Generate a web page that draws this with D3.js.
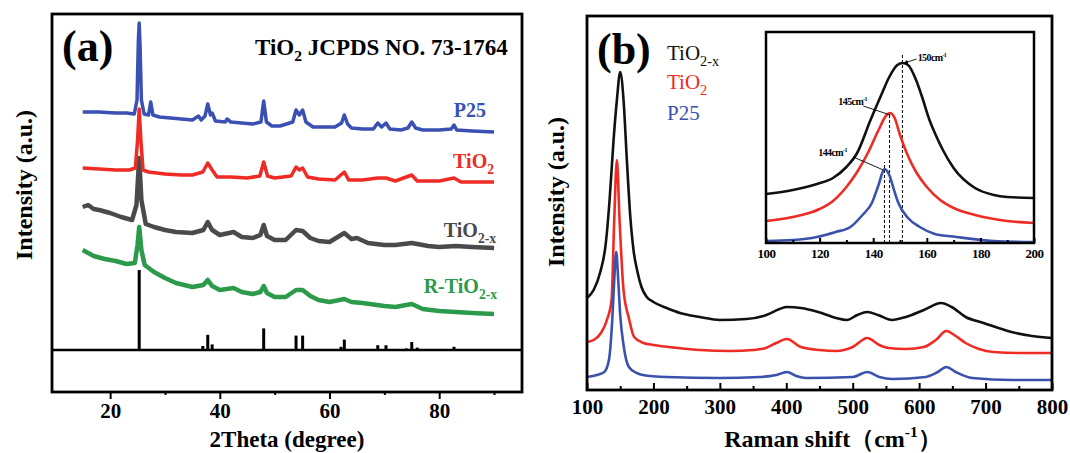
<!DOCTYPE html>
<html lang="en">
<head>
<meta charset="UTF-8">
<title>XRD and Raman of TiO2 samples</title>
<style>
  body { margin: 0; background: #fff; }
  svg { display: block; font-family: "Liberation Serif", "Times New Roman", serif; }
  .axis path { display: none; }
  .axis line { stroke: #000; stroke-width: 2; }
  .axis text { font-weight: bold; fill: #000; }
</style>
</head>
<body>
<div id="chart"></div>
<script src="https://cdn.jsdelivr.net/npm/d3@7"></script>
<script>
// ---- (a) XRD, [2theta, intensity a.u. (stacked)] ----
const xrdP25 = [[15,280],[18,280],[21,279],[23,279],[24.4,278],[24.9,292],[25.15,352],[25.3,369],[25.45,347],[25.7,292],[26.2,278],[27,277],[27.4,290],[27.8,277],[29,275],[31,274],[33,273],[35,272],[36.1,276],[36.6,272],[37.3,276],[37.8,288],[38.3,277],[38.6,279],[39.2,271],[41,270],[41.3,273],[42,270],[44,269],[46,268],[47.5,270],[48,291],[48.5,270],[49.5,266],[51,266],[53.3,270],[53.9,282],[54.5,277],[55.1,282],[55.7,270],[57,265],[59,265],[61,265],[62.2,269],[62.7,277],[63.3,268],[64,264],[66,263],[68,263],[68.8,269],[69.5,265],[70.3,269],[71,263],[73,262],[74.3,264],[75,270],[75.7,264],[77,262],[80,262],[82.2,263],[82.7,267],[83.2,262],[86,261],[90,260]];
const xrdTiO2 = [[15,224],[18,223],[21,222],[23.5,222],[24.6,224],[25,252],[25.3,283],[25.6,252],[26,222],[27,220],[30,218],[33,217],[35,217],[36.9,220],[37.8,229],[38.6,222],[39.5,215],[42,215],[45,214],[47.3,216],[48,230],[48.7,216],[50,214],[53,216],[53.9,225],[54.5,222],[55.1,224],[56,215],[58,213],[61,212],[62.7,220],[63.5,212],[66,212],[68.8,214],[70.3,214],[72,211],[75,217],[76,211],[80,211],[82.7,214],[84,210],[90,210]];
const xrdTiO2x = [[15,185],[16,187],[17,183],[18,182],[20,179],[22,175],[24,172],[24.8,187],[25.3,234],[25.7,192],[26.5,168],[28,165],[30,162],[32,160],[35,159],[37,162],[37.8,170],[38.6,162],[40,157],[42.5,160],[44,155],[46,154],[47.4,157],[48,167],[48.6,156],[50,152],[52,152],[53.9,162],[55.1,161],[56.5,154],[58,151],[60,150],[62.7,159],[64,153],[65,154],[67,149],[70,147],[72,147],[75,149],[78,146],[80,145],[83,146],[86,145],[90,144]];
const xrdRTiO2x = [[15,142],[16,139],[17,136],[19,133],[21,131],[23,128],[24.5,129],[25,147],[25.3,165],[25.7,142],[26.3,127],[28,120],[30,114],[32,109],[35,105],[37,107],[37.8,112],[38.6,106],[40,102],[42.5,104],[44,100],[46,98],[47.4,100],[48,106],[48.6,99],[50,95],[52,95],[53.9,102],[55.1,102],[56.5,96],[58,92],[60,90],[62.7,93],[64,90],[66,89],[70,86],[72,85],[75,88],[77,83],[80,81],[83,80],[86,79],[90,78]];
// JCPDS 73-1764 reference lines [2theta, relative intensity %]
const jcpds = [[25.3,100],[36.9,5],[37.8,19],[38.6,7],[48.0,27],[53.9,18],[55.1,18],[62.1,4],[62.7,13],[68.8,6],[70.3,6],[74.0,2],[75.0,10],[76.0,3],[78.6,1],[80.7,1],[82.7,4]];
const xrdTicks = [20, 40, 60, 80];
const xrdMinor = [30, 50, 70, 90];

// ---- (b) Raman, [shift cm-1, intensity a.u. (stacked)] ----
const ramanTiO2x = [[100,92],[110,100],[120,118],[128,145],[134,190],[140,250],[145,290],[150,318],[155,290],[160,230],[165,175],[170,140],[176,118],[182,103],[190,93],[200,88],[220,82],[240,77],[270,73],[300,70],[340,71],[370,75],[390,81],[401,83],[422,82],[448,78],[475,72],[491,70],[507,75],[522,78],[538,75],[559,70],[580,73],[607,80],[633,87],[649,83],[670,73],[697,67],[739,58],[770,54],[800,52]];
const ramanTiO2 = [[100,48],[110,50],[121,57],[130,70],[137,90],[141,170],[145,230],[149,170],[155,100],[163,72],[171,53],[185,47],[200,45],[237,42],[270,40],[316,39],[350,40],[369,42],[385,47],[401,51],[422,43],[450,40],[475,39],[500,43],[522,52],[540,45],[554,42],[580,41],[607,43],[625,50],[641,59],[655,54],[670,47],[690,41],[712,38],[750,37],[800,37]];
const ramanP25 = [[100,13],[115,15],[126,18],[133,30],[138,70],[141,110],[144,138],[147,110],[150,75],[155,45],[163,23],[175,17],[184,15],[220,13],[300,12],[360,13],[385,15],[401,18],[415,14],[430,12],[500,13],[522,18],[540,13],[560,11],[610,13],[628,18],[641,23],[655,18],[680,12],[740,10],[800,10]];
const ramanTicks = [100, 200, 300, 400, 500, 600, 700, 800];
const ramanMinor = [150, 250, 350, 450, 550, 650, 750];

// ---- (b) inset, 100-200 cm-1 ----
const insetTiO2x = [[100,49],[110,53],[119,59],[125,65],[130,76],[134,90],[139,123],[143,148],[146,166],[149,178],[151,180],[153,178],[156,163],[158,148],[161,123],[163,110],[166,93],[170,75],[178,55],[185,48],[190,46],[200,45]];
const insetTiO2 = [[100,22],[110,26],[120,34],[125,42],[130,56],[134,71],[138,90],[142,113],[145,128],[146.3,130],[148,125],[150,108],[152.5,90],[156,71],[160,56],[165,43],[170,35],[178,28],[190,22],[200,20]];
const insetP25 = [[100,2],[110,3],[119,6],[126,11],[131.5,16],[136,28],[139.5,40],[142,58],[144.2,74],[146,68],[148,51],[149.4,40],[153,25],[157.4,16],[163,9],[171,6],[185,2],[200,1]];
const insetTicks = [100, 120, 140, 160, 180, 200];
const insetMinor = [110, 130, 150, 170, 190];
// peak markers: [position, top of dashed line]
const peakMarks = [[144.2, 81], [146.1, 131], [150.9, 188]];
// peak labels: text, label anchor [x, y], leader end [x, y]
const peakLabels = [
  { text: "150cm", at: [156.6, 182], from: [156.2, 184], to: [151.6, 180] },
  { text: "145cm", at: [127, 138], from: [136.3, 137], to: [146.4, 128] },
  { text: "144cm", at: [119.5, 87], from: [132.6, 86], to: [143.8, 73] }
];

const W = 1070, H = 453;
const SERIF = '"Liberation Serif", "Times New Roman", serif';
const svg = d3.select("#chart").append("svg").attr("width", W).attr("height", H);
svg.append("rect").attr("width", W).attr("height", H).attr("fill", "#fff");

// text with sub/superscript parts: [str, "sub"|"sup"|null]
function richText(g, x, y, parts, size, opts) {
  const t = g.append("text").attr("x", x).attr("y", y)
    .attr("font-size", size)
    .attr("font-weight", opts.bold ? "bold" : "normal")
    .attr("fill", opts.color || "#000")
    .attr("text-anchor", opts.anchor || "start");
  if (opts.rotate) t.attr("transform", `rotate(-90, ${x}, ${y})`);
  let shift = 0;
  parts.forEach(([s, kind]) => {
    const sp = t.append("tspan").text(s);
    let target = 0;
    if (kind === "sub") { target = size * 0.28; sp.attr("font-size", size * 0.68); }
    if (kind === "sup") { target = -size * 0.4; sp.attr("font-size", size * 0.65); }
    if (target !== shift) { sp.attr("dy", target - shift); shift = target; }
  });
  return t;
}

// d3 axis puts font-family sans-serif on the group, swap it for serif
function serifAxis(g, size) {
  g.attr("font-family", null);
  g.selectAll("text").style("font-family", SERIF).attr("font-size", size);
}

/**
 * Panel (a)
 */
const xA = d3.scaleLinear().domain([9.4, 95.1]).range([52, 522]);
const yA = d3.scaleLinear().domain([0, 378]).range([392, 14]);
const yRef = d3.scaleLinear().domain([0, 100]).range([yA(42), yA(122)]);
const gA = svg.append("g");

const lineA = d3.line().x(d => xA(d[0])).y(d => yA(d[1]));
[[xrdRTiO2x, "#2b9a4a", 4.5], [xrdTiO2x, "#4a4a4d", 4.5], [xrdTiO2, "#ee2b24", 3.5], [xrdP25, "#3a50b2", 3.5]]
  .forEach(([data, color, w]) => {
    gA.append("path").datum(data).attr("d", lineA)
      .attr("fill", "none").attr("stroke", color).attr("stroke-width", w)
      .attr("stroke-linejoin", "round");
  });

gA.selectAll(".ref").data(jcpds).enter().append("line")
  .attr("x1", d => xA(d[0])).attr("x2", d => xA(d[0]))
  .attr("y1", yRef(0)).attr("y2", d => yRef(d[1]))
  .attr("stroke", "#000").attr("stroke-width", 3);

gA.append("line").attr("x1", xA.range()[0]).attr("x2", xA.range()[1])
  .attr("y1", yA(42)).attr("y2", yA(42)).attr("stroke", "#000").attr("stroke-width", 2.5);
gA.append("rect").attr("x", 52).attr("y", 14).attr("width", 470).attr("height", 378)
  .attr("fill", "none").attr("stroke", "#000").attr("stroke-width", 2.8);

gA.append("g").attr("class", "axis").attr("transform", "translate(0,392)")
  .call(d3.axisBottom(xA).tickValues(xrdTicks).tickSize(7).tickPadding(4))
  .call(serifAxis, 21);
gA.append("g").attr("class", "axis").attr("transform", "translate(0,392)")
  .call(d3.axisBottom(xA).tickValues(xrdMinor).tickSize(3).tickFormat(""));

richText(gA, 62, 61, [["(a)"]], 44, { bold: true });
richText(gA, 255, 55, [["TiO"], ["2", "sub"], [" JCPDS NO. 73-1764"]], 23, { bold: true });
richText(gA, 486, 117, [["P25"]], 20, { bold: true, color: "#3a50b2", anchor: "end" });
richText(gA, 494, 168, [["TiO"], ["2", "sub"]], 20, { bold: true, color: "#ee2b24", anchor: "end" });
richText(gA, 496, 237, [["TiO"], ["2-x", "sub"]], 20, { bold: true, color: "#4a4a4d", anchor: "end" });
richText(gA, 497, 293, [["R-TiO"], ["2-x", "sub"]], 20, { bold: true, color: "#2b9a4a", anchor: "end" });
richText(gA, 287, 447, [["2Theta (degree)"]], 23, { bold: true, anchor: "middle" });
richText(gA, 32, 185, [["Intensity (a.u.)"]], 24, { bold: true, anchor: "middle", rotate: true });

/**
 * Panel (b)
 */
const xB = d3.scaleLinear().domain([100, 800]).range([587, 1052]);
const yB = d3.scaleLinear().domain([0, 374]).range([390, 16]);
const gB = svg.append("g");
const lineB = d3.line().curve(d3.curveMonotoneX).x(d => xB(d[0])).y(d => yB(d[1]));
[[ramanTiO2x, "#111"], [ramanTiO2, "#ee2b24"], [ramanP25, "#3a52ab"]].forEach(([data, color]) => {
  gB.append("path").datum(data).attr("d", lineB)
    .attr("fill", "none").attr("stroke", color).attr("stroke-width", 2.6);
});
gB.append("rect").attr("x", 587).attr("y", 16).attr("width", 465).attr("height", 374)
  .attr("fill", "none").attr("stroke", "#000").attr("stroke-width", 2.8);
gB.append("g").attr("class", "axis").attr("transform", "translate(0,390)")
  .call(d3.axisBottom(xB).tickValues(ramanTicks).tickSizeInner(-7).tickSizeOuter(0).tickPadding(9))
  .call(serifAxis, 21);
gB.append("g").attr("class", "axis").attr("transform", "translate(0,390)")
  .call(d3.axisBottom(xB).tickValues(ramanMinor).tickSizeInner(-4).tickSizeOuter(0).tickFormat(""));

richText(gB, 597, 64, [["(b)"]], 44, { bold: true });
richText(gB, 667, 60, [["TiO"], ["2-x", "sub"]], 21, { color: "#111" });
richText(gB, 667, 89, [["TiO"], ["2", "sub"]], 21, { color: "#ee2b24" });
richText(gB, 667, 120, [["P25"]], 21, { color: "#3a52ab" });
richText(gB, 833, 447, [["Raman shift（cm"], ["-1", "sup"], ["）"]], 24, { bold: true, anchor: "middle" });
richText(gB, 564, 192, [["Intensity (a.u.)"]], 24, { bold: true, anchor: "middle", rotate: true });

/**
 * Inset
 */
const xI = d3.scaleLinear().domain([100, 200]).range([766, 1034]);
const yI = d3.scaleLinear().domain([0, 211]).range([243, 32]);
const gI = svg.append("g");
gI.append("rect").attr("x", 766).attr("y", 32).attr("width", 268).attr("height", 211).attr("fill", "#fff");

gI.selectAll(".mark").data(peakMarks).enter().append("line")
  .attr("x1", d => xI(d[0])).attr("x2", d => xI(d[0]))
  .attr("y1", yI(0)).attr("y2", d => yI(d[1]))
  .attr("stroke", "#000").attr("stroke-width", 1).attr("stroke-dasharray", "3,2");

const lineI = d3.line().curve(d3.curveMonotoneX).x(d => xI(d[0])).y(d => yI(d[1]));
[[insetTiO2x, "#111"], [insetTiO2, "#ee2b24"], [insetP25, "#3a52ab"]].forEach(([data, color]) => {
  gI.append("path").datum(data).attr("d", lineI)
    .attr("fill", "none").attr("stroke", color).attr("stroke-width", 2.6);
});

svg.append("defs").append("marker").attr("id", "arr")
  .attr("viewBox", "0 0 6 6").attr("refX", 5).attr("refY", 3)
  .attr("markerWidth", 5).attr("markerHeight", 5).attr("orient", "auto")
  .append("path").attr("d", "M0,0L6,3L0,6Z").attr("fill", "#000");

peakLabels.forEach((p, i) => {
  const ln = gI.append("line")
    .attr("x1", xI(p.from[0])).attr("y1", yI(p.from[1]))
    .attr("x2", xI(p.to[0])).attr("y2", yI(p.to[1]))
    .attr("stroke", "#000").attr("stroke-width", 0.9);
  if (i === 0) ln.attr("marker-end", "url(#arr)");
  const t = gI.append("text").attr("x", xI(p.at[0])).attr("y", yI(p.at[1]))
    .attr("font-size", 10).attr("font-weight", "bold").attr("letter-spacing", -0.6);
  t.append("tspan").text(p.text);
  t.append("tspan").text("-1").attr("font-size", 6).attr("dy", -4);
});

gI.append("rect").attr("x", 766).attr("y", 32).attr("width", 268).attr("height", 211)
  .attr("fill", "none").attr("stroke", "#000").attr("stroke-width", 2.5);
gI.append("g").attr("class", "axis").attr("transform", "translate(0,243)")
  .call(d3.axisBottom(xI).tickValues(insetTicks).tickSizeInner(-5).tickSizeOuter(0).tickPadding(6))
  .call(serifAxis, 13)
  .selectAll("text").attr("letter-spacing", -0.5);
gI.append("g").attr("class", "axis").attr("transform", "translate(0,243)")
  .call(d3.axisBottom(xI).tickValues(insetMinor).tickSizeInner(-3).tickSizeOuter(0).tickFormat(""));
</script>
</body>
</html>
